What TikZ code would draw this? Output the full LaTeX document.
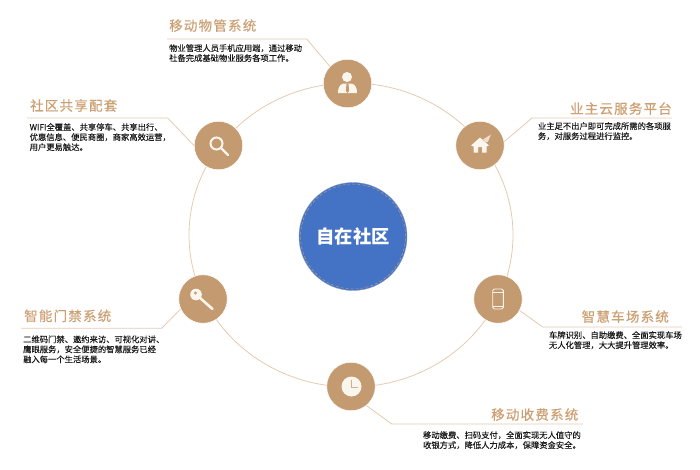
\documentclass[tikz,border=0pt]{standalone}
\usepackage{fontspec}
\setmainfont{Noto Sans CJK SC}
\newfontfamily\titlefont[LetterSpace=9,FakeBold=0.5]{Noto Sans CJK SC}
\newfontfamily\bodyfont[FakeBold=0.15]{Noto Sans CJK SC}
\usetikzlibrary{positioning, shapes.geometric}
\definecolor{dottan}{RGB}{196,154,112}
\definecolor{ringtan}{RGB}{230,202,176}
\definecolor{titletan}{RGB}{204,160,115}
\definecolor{hubblue}{RGB}{68,114,196}
\definecolor{icon}{RGB}{250,246,238}

\begin{document}
\begin{tikzpicture}[
  x=1pt, y=-1pt,
  hub/.style={circle, fill=hubblue, draw=hubblue!70!white, minimum size=108pt, inner sep=0pt,
              text=white, font=\fontsize{18.3}{20}\selectfont\bfseries},
  ring/.style={ellipse, draw=ringtan, thick, minimum width=324pt, minimum height=304pt, inner sep=0pt},
  dot/.style={circle, fill=dottan, draw=white, line width=0.5pt, minimum size=48.5pt, inner sep=0pt},
  leader/.style={draw=ringtan, line width=0.8pt},
  ttl/.style={inner sep=0pt, text=titletan, font=\fontsize{13.5}{15}\titlefont},
  txt/.style={inner sep=0pt, align=left, text=black!90, font=\fontsize{8.3}{10}\bodyfont},
  glyph/.style={fill=icon, draw=none},
  stroke/.style={draw=icon, line cap=round}
]
\useasboundingbox (0,0) rectangle (700,469);

\node[ring] (loop) at (351,235) {};
\node[hub] (hub) at (353,236.5) {自在社区};
\draw[dottan, densely dashed, line width=0.5pt] (hub) circle (52.5pt);

\node[dot] (n1) at (347.5,83.5) {};
\node[dot] (n2) at (218.5,145.5) {};
\node[dot] (n3) at (480,145.5) {};
\node[dot] (n4) at (203,299) {};
\node[dot] (n5) at (498,299) {};
\node[dot] (n6) at (351,386.5) {};

\coordinate (e1) at (306.7,39);  \coordinate (f1) at (167,39);
\coordinate (e2) at (167.7,118); \coordinate (f2) at (27,118);
\coordinate (e3) at (532,118);   \coordinate (f3) at (672,118);
\coordinate (e4) at (161.7,328.3); \coordinate (f4) at (21,328.3);
\coordinate (e5) at (542.7,327); \coordinate (f5) at (682,327);
\coordinate (e6) at (391.7,424); \coordinate (f6) at (583,424);

\draw[leader] (f1) -- (e1) -- (n1.136);
\draw[leader] (f2) -- (e2) -- (n2.180);
\draw[leader] (f3) -- (e3) -- (n3.9);
\draw[leader] (f4) -- (e4) -- (n4.204);
\draw[leader] (f5) -- (e5) -- (n5.-28);
\draw[leader] (f6) -- (e6) -- (n6.-51);

\node[ttl, above right=7pt and 2pt of f1] (t1) {移动物管系统};
\node[txt, below right=5pt and 2pt of f1] (b1) {物业管理人员手机应用端，通过移动\\社备完成基础物业服务各项工作。};
\node[ttl, above right=6pt and 3pt of f2] (t2) {社区共享配套};
\node[txt, below right=5pt and 2.5pt of f2] (b2) {WIFI全覆盖、共享停车、共享出行、\\优惠信息、便民商圈，商家高效运营，\\用户更易触达。};
\node[ttl, above left=3pt and 0pt of f3] (t3) {业主云服务平台};
\node[txt, below left=4pt and 1pt of f3] (b3) {业主足不出户即可完成所需的各项服\\务，对服务过程进行监控。};
\node[ttl, above left=4pt and 13pt of f5] (t5) {智慧车场系统};
\node[ttl, above right=6pt and 3pt of f4] (t4) {智能门禁系统};
\node[txt, below right=7pt and 2pt of f4] (b4) {二维码门禁、邀约来访、可视化对讲、\\鹰眼服务，安全便捷的智慧服务已经\\融入每一个生活场景。};
\node[txt, below left=4pt and 0pt of f5] (b5) {车牌识别、自助缴费、全面实现车场\\无人化管理，大大提升管理效率。};
\node[ttl, above left=3pt and 4.5pt of f6] (t6) {移动收费系统};
\node[txt, below left=7pt and 2pt of f6] (b6) {移动缴费、扫码支付，全面实现无人值守的\\收银方式，降低人力成本，保障资金安全。};

% icons
\begin{scope}[shift={(n1.center)}]
  \fill[glyph] (-0.5,-6.5) circle (5pt);
  \fill[glyph] (-9.5,9.5) .. controls (-9.5,2) and (-6,0) .. (-3,0) -- (3,0) .. controls (6,0) and (9.5,2) .. (9.5,9.5) -- cycle;
  \fill[dottan] (-1,0) -- (1,0) -- (1.6,7.5) -- (0,9.5) -- (-1.6,7.5) -- cycle;
\end{scope}
\begin{scope}[shift={(n2.center)}]
  \draw[stroke, line width=2pt] (-2,-2) circle (6pt);
  \draw[stroke, line width=2.4pt] (2.5,2.5) -- (9.5,9.5);
\end{scope}
\begin{scope}[shift={(n3.center)}]
  \fill[glyph] (-9,0) -- (0,-8) -- (9,0) -- (6.5,1) -- (6.5,7) -- (2,7) -- (2,1.5) -- (-2,1.5) -- (-2,7) -- (-6.5,7) -- (-6.5,1) -- cycle;
  \fill[icon!75!dottan] (3,-6) -- (11,-11) -- (8,-4) -- (6,-3) -- cycle;
\end{scope}
\begin{scope}[shift={(n4.center)}]
  \fill[glyph] (-7,-4.5) circle (5.8pt);
  \draw[stroke, line width=2.6pt] (-4,-2) -- (9.5,10);
  \fill[dottan] (-7.5,-6) circle (1.6pt);
\end{scope}
\begin{scope}[shift={(n5.center)}]
  \draw[stroke, line width=0.9pt, rounded corners=1.5pt] (-5.3,-10) rectangle (5.3,10);
  \draw[stroke, line width=0.5pt] (-5.3,-7) -- (5.3,-7) (-5.3,7) -- (5.3,7);
\end{scope}
\begin{scope}[shift={(n6.center)}]
  \fill[glyph] (0.5,0) circle (10pt);
  \draw[dottan!80!white, line width=0.9pt] (0,-7) -- (0,0.5) -- (7,0.5);
\end{scope}
\end{tikzpicture}
\end{document}
